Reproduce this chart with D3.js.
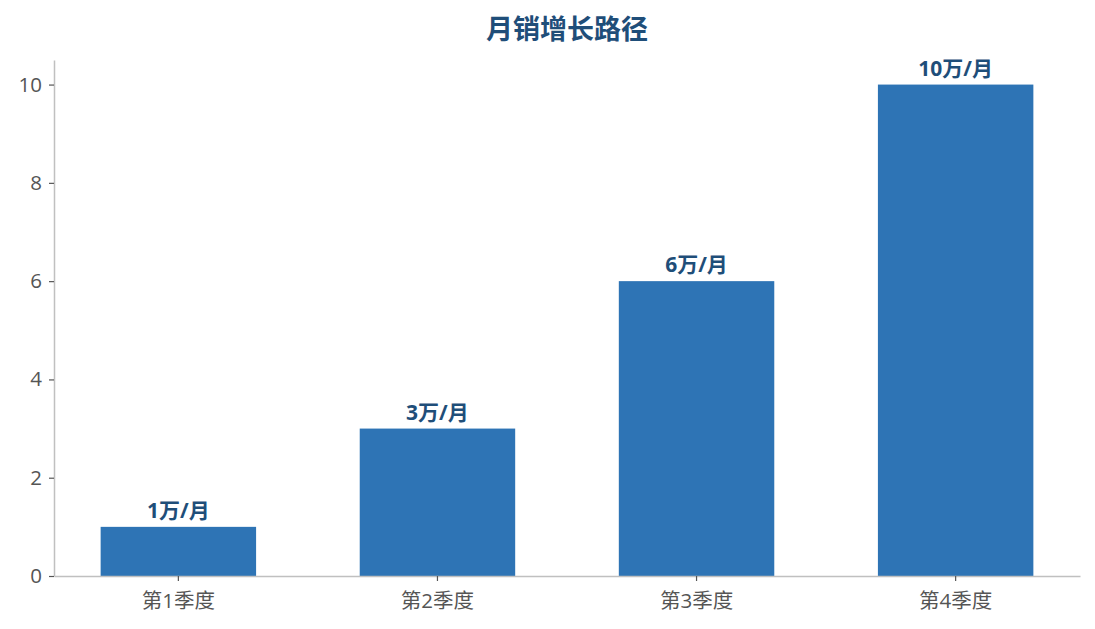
<!DOCTYPE html>
<html>
<head>
<meta charset="utf-8">
<script src="https://cdn.jsdelivr.net/npm/d3@7"></script>
<style>
  body { margin: 0; background: #fff; }
  text { font-family: "Open Sans", "Noto Sans CJK SC", sans-serif; }
</style>
</head>
<body>
<div id="chart"></div>
<script>
var categories = ["第1季度", "第2季度", "第3季度", "第4季度"];
var sales = [1, 3, 6, 10];
var barLabels = ["1万/月", "3万/月", "6万/月", "10万/月"];
var yTicks = [0, 2, 4, 6, 8, 10];

var margin = { top: 60, right: 15, bottom: 53, left: 54 };
var width = 1095 - margin.left - margin.right;
var height = 629 - margin.top - margin.bottom;
var fontStack = "'Open Sans', 'Noto Sans CJK SC', sans-serif";

var svg = d3.select("#chart").append("svg")
  .attr("width", 1095)
  .attr("height", 629);

var g = svg.append("g")
  .attr("transform", "translate(" + margin.left + "," + margin.top + ")");

var x = d3.scaleBand()
  .domain(categories)
  .range([0, width])
  .paddingInner(0.4)
  .paddingOuter(0.18);

var y = d3.scaleLinear()
  .domain([0, 10.5])
  .range([height, 0]);

// bars
g.selectAll(".bar")
  .data(sales)
  .enter().append("rect")
  .attr("class", "bar")
  .attr("x", function(d, i){ return x(categories[i]); })
  .attr("y", function(d){ return y(d); })
  .attr("width", x.bandwidth())
  .attr("height", function(d){ return y(0) - y(d); })
  .attr("fill", "#2e74b5");

// value labels
g.selectAll(".val")
  .data(sales)
  .enter().append("text")
  .attr("class", "val")
  .attr("x", function(d, i){ return x(categories[i]) + x.bandwidth() / 2; })
  .attr("y", function(d){ return y(d) - 9; })
  .attr("text-anchor", "middle")
  .attr("font-size", 21)
  .attr("font-weight", "bold")
  .attr("fill", "#1f4e79")
  .text(function(d, i){ return barLabels[i]; });

// axes
var xAxis = g.append("g")
  .attr("transform", "translate(0," + height + ")")
  .call(d3.axisBottom(x).tickSize(5).tickSizeOuter(0));

var yAxis = g.append("g")
  .call(d3.axisLeft(y).tickValues(yTicks).tickSize(5).tickSizeOuter(0));

[xAxis, yAxis].forEach(function(ax){
  ax.attr("font-size", 20.5).attr("font-family", fontStack);
  ax.select(".domain").attr("stroke", "#c0c0c0").attr("stroke-width", 1.5);
  ax.selectAll(".tick line").attr("stroke", "#555").attr("stroke-width", 1.2);
  ax.selectAll(".tick text").attr("fill", "#555");
});
xAxis.selectAll(".tick text").attr("y", 14).attr("dy", "0.9em");
yAxis.selectAll(".tick text").attr("x", -12);

// title
svg.append("text")
  .attr("x", 567)
  .attr("y", 39)
  .attr("text-anchor", "middle")
  .attr("font-size", 27)
  .attr("font-weight", "bold")
  .attr("fill", "#1f4e79")
  .text("月销增长路径");
</script>
</body>
</html>
